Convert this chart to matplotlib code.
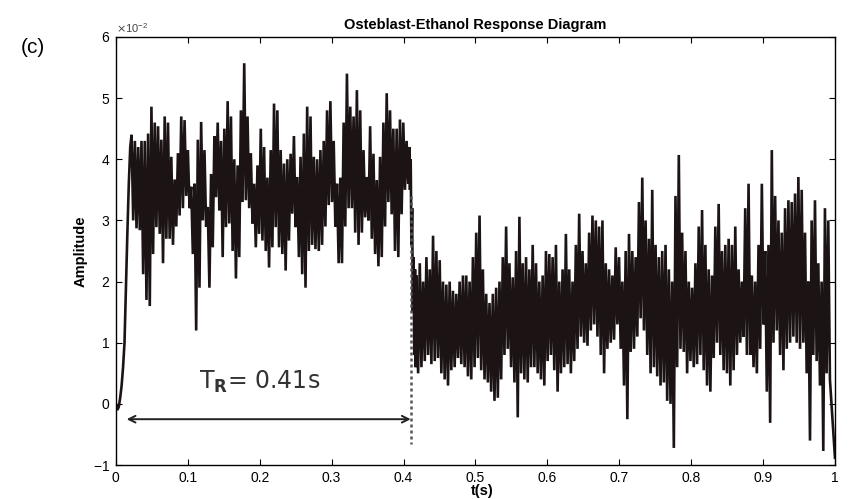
"""
Resposta de osteoblastos ao etanol: sinal de amplitude no tempo
"""

import numpy as np
import matplotlib
matplotlib.use('Agg')
import matplotlib.pyplot as plt
from matplotlib.ticker import MultipleLocator, FuncFormatter

plt.rcParams['font.family'] = ['Liberation Sans', 'DejaVu Sans']
plt.rcParams['axes.unicode_minus'] = False

# Amplitudes em unidades de 1e-2
ESCALA = 1e-2

# Subida inicial do sinal (t em s)
t_inicio = [0.0, 0.002, 0.004, 0.006, 0.008, 0.010, 0.012, 0.014, 0.016, 0.018, 0.020]
amp_inicio = [0.0, -0.1, -0.05, 0.1, 0.3, 0.6, 1.0, 1.9, 2.8, 3.6, 4.2]

# Trecho com etanol (0.022 s a 0.407 s): picos e vales alternados
t_trecho1 = (0.0218, 0.4066)
picos1 = [4.4, 4.3, 4.2, 4.3, 4.3, 4.42, 4.86, 4.6, 4.54, 4.32,
          4.7, 4.6, 4.04, 3.67, 4.1, 4.7, 4.64, 4.15, 3.55, 3.6,
          4.32, 4.61, 4.15, 3.22, 3.76, 4.38, 4.6, 4.3, 4.5, 4.95,
          4.7, 4.0, 3.9, 4.8, 5.57, 4.7, 4.1, 3.6, 3.9, 4.5,
          4.2, 3.7, 4.15, 4.91, 4.8, 4.15, 3.93, 4.0, 4.09, 4.38,
          3.71, 4.04, 4.42, 4.86, 4.7, 4.04, 4.0, 4.15, 4.3, 4.8,
          4.95, 4.3, 3.6, 3.7, 4.6, 5.4, 4.86, 4.7, 5.13, 4.8,
          4.15, 3.71, 4.54, 4.09, 3.66, 4.04, 4.6, 5.08, 4.8, 4.5,
          4.5, 4.65, 4.6, 4.3]
vales1 = [3.0, 2.87, 2.84, 2.12, 1.7, 1.6, 2.45, 2.89, 2.78, 2.3,
          2.7, 2.7, 2.6, 2.9, 3.08, 3.2, 3.4, 3.2, 2.45, 1.2,
          1.9, 3.0, 2.9, 1.9, 2.56, 3.38, 3.16, 2.4, 2.89, 2.95,
          2.5, 2.05, 2.4, 3.3, 3.33, 3.2, 2.95, 2.56, 2.78, 2.67,
          2.5, 2.23, 2.56, 2.89, 2.56, 2.45, 2.18, 2.67, 3.11, 2.89,
          2.4, 2.12, 1.9, 2.5, 2.6, 2.53, 2.5, 2.6, 2.9, 3.25,
          3.3, 2.9, 2.3, 2.3, 2.9, 3.2, 3.2, 2.8, 2.6, 2.8,
          3.05, 3.0, 2.7, 2.45, 2.25, 2.4, 2.9, 3.3, 3.1, 2.5,
          2.4, 3.1, 3.5, 3.6]

# Queda do sinal em torno de 0.41 s
t_queda = [0.408, 0.409, 0.410, 0.411, 0.412, 0.413, 0.414, 0.415, 0.416, 0.417]
amp_queda = [4.2, 3.5, 4.0, 2.6, 3.2, 1.5, 2.4, 0.8, 2.2, 0.6]

# Trecho após a resposta (0.418 s a 0.993 s)
t_trecho2 = (0.418, 0.993)
picos2 = [2.1, 2.3, 2.0, 2.4, 2.2, 2.75, 2.5, 2.35, 2.0, 1.95,
          2.0, 1.85, 1.8, 2.0, 2.1, 2.1, 2.0, 2.4, 2.8, 3.08,
          2.2, 1.8, 1.65, 1.8, 1.9, 2.0, 2.4, 2.9, 2.3, 2.07,
          2.5, 3.06, 2.3, 2.4, 2.2, 2.6, 2.3, 2.0, 2.1, 2.5,
          2.45, 2.4, 2.6, 2.0, 2.2, 2.78, 2.2, 2.0, 2.6, 3.11,
          2.5, 2.3, 2.8, 3.08, 3.0, 2.9, 3.0, 2.3, 2.2, 2.1,
          2.56, 2.4, 2.0, 2.5, 2.78, 2.5, 2.4, 3.3, 3.7, 3.0,
          2.7, 3.5, 2.6, 2.4, 2.5, 2.6, 2.2, 2.0, 3.4, 4.07,
          2.8, 2.5, 2.0, 1.9, 2.3, 2.9, 3.17, 2.6, 2.2, 2.1,
          2.9, 3.27, 2.5, 2.6, 2.7, 2.6, 2.9, 2.2, 2.0, 3.2,
          3.6, 2.1, 2.0, 2.6, 3.6, 2.5, 2.6, 4.15, 3.4, 3.0,
          2.8, 3.2, 3.33, 3.3, 3.44, 3.71, 3.5, 2.8, 2.0, 3.0,
          3.33, 2.3, 2.0, 3.2, 3.0]
vales2 = [0.5, 0.6, 0.7, 0.8, 0.65, 0.7, 0.75, 0.5, 0.4, 0.3,
          0.55, 0.6, 0.75, 0.65, 0.6, 0.45, 0.4, 0.6, 0.75, 0.55,
          0.4, 0.35, 0.2, 0.05, 0.1, 0.4, 0.8, 0.9, 0.6, 0.35,
          -0.22, 0.5, 0.4, 0.35, 0.6, 0.6, 0.5, 0.4, 0.3, 0.7,
          0.8, 0.55, 0.2, 0.5, 0.6, 0.65, 0.5, 0.7, 0.9, 1.1,
          1.0, 0.95, 1.2, 1.3, 1.1, 0.8, 0.5, 0.9, 1.0, 1.05,
          1.3, 0.9, 0.3, -0.25, 0.85, 0.9, 1.1, 1.4, 1.2, 0.8,
          0.5, 0.6, 0.45, 0.3, 0.35, 0.05, 0.0, -0.72, 0.6, 0.9,
          0.85, 0.5, 0.7, 0.6, 0.65, 0.8, 0.55, 0.3, 0.2, 0.75,
          1.0, 0.8, 0.55, 0.5, 0.3, 0.55, 0.8, 1.0, 1.1, 0.8,
          0.8, 0.6, 0.5, 0.9, 1.3, 0.2, -0.31, 1.0, 1.2, 0.8,
          0.55, 0.9, 1.0, 1.1, 1.0, 0.9, 1.0, 0.5, -0.6, 0.8,
          0.7, 0.3, -0.77, 0.5, 0.4]

# Último ponto do registro
t_fim = [1.0]
amp_fim = [-0.88]

# Tempo de resposta marcado no gráfico
T_RESPOSTA = 0.41
T_SETA_INICIO = 0.015


def _zigzag(intervalo, picos, vales):
    """Intercala picos e vales num intervalo de tempo"""
    amp = np.column_stack([picos, vales]).ravel()
    t = np.linspace(intervalo[0], intervalo[1], amp.size)
    return t, amp


def plotar_resposta(arquivo='out.png'):
    t1, a1 = _zigzag(t_trecho1, picos1, vales1)
    t2, a2 = _zigzag(t_trecho2, picos2, vales2)
    t = np.concatenate([t_inicio, t1, t_queda, t2, t_fim])
    amp = np.concatenate([amp_inicio, a1, amp_queda, a2, amp_fim]) * ESCALA

    fig = plt.figure(figsize=(8.52, 4.99), dpi=100)
    ax = fig.add_axes([0.136, 0.068, 0.844, 0.858])

    ax.plot(t, amp, color='#1c1414', linewidth=1.9, solid_joinstyle='miter')

    # Linha pontilhada no instante de resposta
    ax.plot([T_RESPOSTA, T_RESPOSTA], [3.4 * ESCALA, -0.66 * ESCALA],
            color='#555555', linewidth=1.8, linestyle=(0, (1.2, 1.2)))

    # Seta dupla indicando T_R
    ax.annotate('', xy=(T_SETA_INICIO, -0.25 * ESCALA),
                xytext=(T_RESPOSTA, -0.25 * ESCALA),
                arrowprops=dict(arrowstyle='<->', color='#222222', lw=1.4,
                                shrinkA=0, shrinkB=0, mutation_scale=12))
    ax.text(0.2, 0.36 * ESCALA, r'T$_{\mathbf{R}}$= 0.41s',
            family='DejaVu Sans', fontsize=17, color='#333333',
            ha='center', va='center')

    ax.set_xlim(0, 1)
    ax.set_ylim(-1 * ESCALA, 6 * ESCALA)
    ax.xaxis.set_major_locator(MultipleLocator(0.1))
    ax.xaxis.set_major_formatter(FuncFormatter(lambda v, _: f'{v:g}'))
    ax.yaxis.set_major_locator(MultipleLocator(1 * ESCALA))
    ax.ticklabel_format(axis='y', style='sci', scilimits=(0, 0), useMathText=True)
    ax.yaxis.get_offset_text().set_fontsize(8)
    ax.yaxis.get_offset_text().set_color('#444444')

    ax.tick_params(direction='in', top=True, right=True, length=4,
                   labelsize=10, pad=4)
    for spine in ax.spines.values():
        spine.set_linewidth(1.0)

    ax.set_title('Osteblast-Ethanol Response Diagram', fontsize=10.5,
                 weight='bold', pad=6)
    ax.set_ylabel('Amplitude', fontsize=10.5, weight='bold')
    ax.set_xlabel('t(s)', fontsize=10.5, weight='bold')
    ax.xaxis.set_label_coords(0.51, -0.045)

    fig.text(0.024, 0.905, '(c)', fontsize=15, ha='left', va='center')

    fig.savefig(arquivo, dpi=100)
    plt.close(fig)


if __name__ == '__main__':
    plotar_resposta()
